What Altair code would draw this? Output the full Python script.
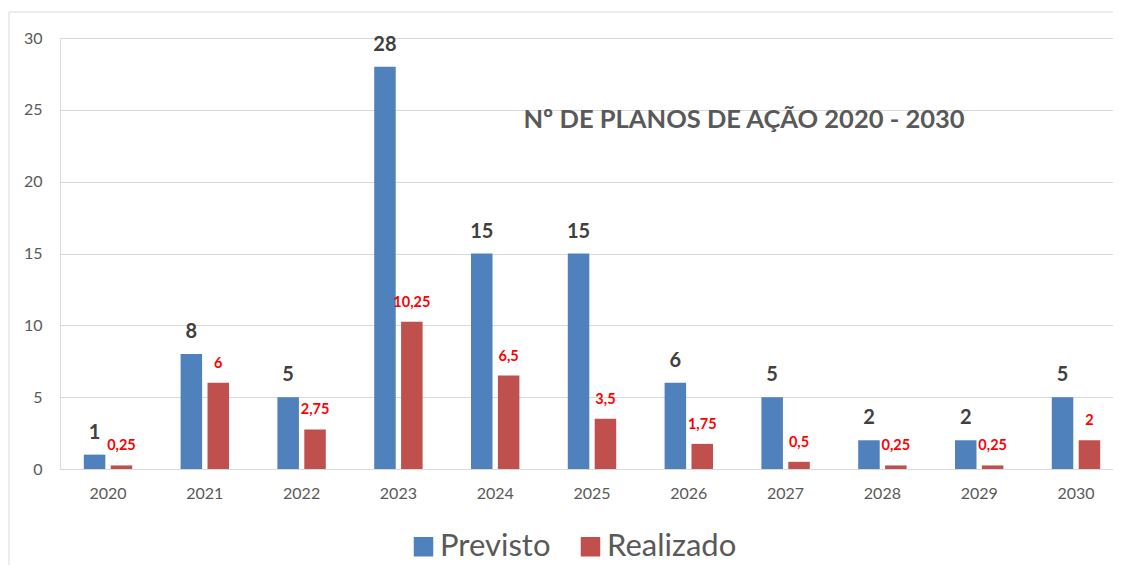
import altair as alt
import pandas as pd

anos = ["2020", "2021", "2022", "2023", "2024", "2025", "2026", "2027", "2028", "2029", "2030"]
previsto = [1, 8, 5, 28, 15, 15, 6, 5, 2, 2, 5]
realizado = [0.25, 6, 2.75, 10.25, 6.5, 3.5, 1.75, 0.5, 0.25, 0.25, 2]
series = ["Previsto", "Realizado"]
cores = ["#4F81BD", "#C0504D"]
titulo = "Nº DE PLANOS DE AÇÃO 2020 - 2030"

rows = []
for a, p, r in zip(anos, previsto, realizado):
    rows.append({"ano": a, "serie": "Previsto", "valor": p})
    rows.append({"ano": a, "serie": "Realizado", "valor": r})
df = pd.DataFrame(rows)

FONT = "Lato"
W, H = 1053, 431

base = alt.Chart(df).transform_calculate(
    rotulo="replace(toString(datum.valor), '.', ',')"
)

x_enc = alt.X("ano:N", title=None, sort=anos,
              scale=alt.Scale(paddingInner=0.5, paddingOuter=0.246, range=[0, 1064]),
              axis=alt.Axis(labelAngle=0, domain=False, ticks=False, labelPadding=16,
                            labelFontSize=16, labelColor="#595959", labelFont=FONT))
xo_enc = alt.XOffset("serie:N", sort=series, scale=alt.Scale(paddingInner=0.2))
y_enc = alt.Y("valor:Q", title=None,
              scale=alt.Scale(domain=[0, 30], nice=False),
              axis=alt.Axis(values=[0, 5, 10, 15, 20, 25, 30], domain=False, ticks=False,
                            labelPadding=18, labelFontSize=16, labelColor="#595959",
                            labelFont=FONT, gridColor="#D9D9D9", gridWidth=1))

border = alt.Chart(pd.DataFrame({"k": [0]})).mark_rect(
    fill=None, stroke="#D9D9D9", strokeWidth=1
).encode(x=alt.value(-51), x2=alt.value(1080), y=alt.value(-26), y2=alt.value(545))

bars = base.mark_bar().encode(
    x=x_enc, xOffset=xo_enc, y=y_enc,
    color=alt.Color("serie:N", sort=series, title=None,
                    scale=alt.Scale(domain=series, range=cores),
                    legend=alt.Legend(orient="none", direction="horizontal",
                                      legendX=348, legendY=493,
                                      symbolType="square", symbolSize=380,
                                      symbolStrokeWidth=0,
                                      labelFontSize=31, labelFont=FONT,
                                      labelColor="#595959", columnPadding=24,
                                      labelOffset=1)),
)

lab_prev = base.transform_filter(alt.datum.serie == "Previsto").mark_text(
    font=FONT, fontWeight="bold", fontSize=20, color="#404040",
    baseline="middle", dy=-22
).encode(x=x_enc, xOffset=xo_enc, y=y_enc, text="rotulo:N")

lab_real = base.transform_filter(alt.datum.serie == "Realizado").mark_text(
    font=FONT, fontWeight="bold", fontSize=14.5, color="#FF0000",
    baseline="middle", dy=-19
).encode(x=x_enc, xOffset=xo_enc, y=y_enc, text="rotulo:N")

title_mark = alt.Chart(pd.DataFrame({"t": [titulo]})).mark_text(
    font=FONT, fontWeight="bold", fontSize=25.5, color="#595959",
    baseline="middle", align="center"
).encode(x=alt.value(684), y=alt.value(82), text="t:N")

chart = alt.layer(border, bars, lab_prev, lab_real, title_mark).properties(
    width=W, height=H,
    autosize=alt.AutoSizeParams(type="none"),
    padding={"left": 52, "top": 30, "right": 0, "bottom": 96},
).configure_view(stroke=None).configure(background="white")

chart.save("out.html", embed_options={"renderer": "svg", "actions": False})
